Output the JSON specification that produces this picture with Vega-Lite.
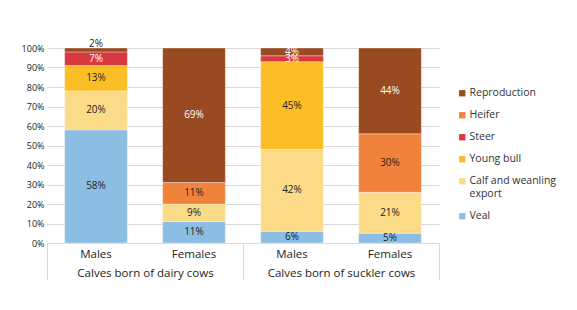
{
  "$schema": "https://vega.github.io/schema/vega-lite/v6.json",
  "background": "white",
  "padding": {"left": 21, "top": 39, "right": 5, "bottom": 5},
  "width": 392,
  "height": 195,
  "config": {"font": "Open Sans", "view": {"stroke": null}},
  "data": {"values": [
    {"group": "Calves born of dairy cows", "sex": "Males", "cat": "Veal", "v": 0.58},
    {"group": "Calves born of dairy cows", "sex": "Males", "cat": "Calf and weanling export", "v": 0.20},
    {"group": "Calves born of dairy cows", "sex": "Males", "cat": "Young bull", "v": 0.13},
    {"group": "Calves born of dairy cows", "sex": "Males", "cat": "Steer", "v": 0.07},
    {"group": "Calves born of dairy cows", "sex": "Males", "cat": "Reproduction", "v": 0.02},
    {"group": "Calves born of dairy cows", "sex": "Females", "cat": "Veal", "v": 0.11},
    {"group": "Calves born of dairy cows", "sex": "Females", "cat": "Calf and weanling export", "v": 0.09},
    {"group": "Calves born of dairy cows", "sex": "Females", "cat": "Heifer", "v": 0.11},
    {"group": "Calves born of dairy cows", "sex": "Females", "cat": "Reproduction", "v": 0.69},
    {"group": "Calves born of suckler cows", "sex": "Males", "cat": "Veal", "v": 0.06},
    {"group": "Calves born of suckler cows", "sex": "Males", "cat": "Calf and weanling export", "v": 0.42},
    {"group": "Calves born of suckler cows", "sex": "Males", "cat": "Young bull", "v": 0.45},
    {"group": "Calves born of suckler cows", "sex": "Males", "cat": "Steer", "v": 0.03},
    {"group": "Calves born of suckler cows", "sex": "Males", "cat": "Reproduction", "v": 0.04},
    {"group": "Calves born of suckler cows", "sex": "Females", "cat": "Veal", "v": 0.05},
    {"group": "Calves born of suckler cows", "sex": "Females", "cat": "Calf and weanling export", "v": 0.21},
    {"group": "Calves born of suckler cows", "sex": "Females", "cat": "Heifer", "v": 0.30},
    {"group": "Calves born of suckler cows", "sex": "Females", "cat": "Reproduction", "v": 0.44}
  ]},
  "transform": [
    {"calculate": "indexof(['Veal','Calf and weanling export','Young bull','Steer','Heifer','Reproduction'], datum.cat)", "as": "rank"},
    {"stack": "v", "groupby": ["group", "sex"], "sort": [{"field": "rank", "order": "ascending"}], "as": ["y0", "y1"]},
    {"calculate": "datum.v < 0.03 ? datum.y1 + 0.02 : (datum.y0 + datum.y1) / 2", "as": "mid"}
  ],
  "layer": [
    {
      "mark": {"type": "bar", "stroke": "white", "strokeWidth": 0.5, "strokeOpacity": 0.7},
      "encoding": {
        "x": {"field": "group", "type": "nominal", "scale": {"paddingInner": 0, "paddingOuter": 0},
              "axis": {"title": null, "labelAngle": 0, "tickBand": "extent", "tickSize": 37, "tickColor": "#d9d9d9", "domainColor": "#d9d9d9", "labelPadding": -13, "labelFontSize": 11.5, "labelColor": "#222"}},
        "xOffset": {"field": "sex", "type": "nominal", "sort": ["Males", "Females"], "scale": {"paddingInner": 0.36, "paddingOuter": 0.18}},
        "y": {"field": "y0", "type": "quantitative", "scale": {"domain": [0, 1], "nice": false},
              "axis": {"title": null, "format": ".0%", "values": [0, 0.1, 0.2, 0.3, 0.4, 0.5, 0.6, 0.7, 0.8, 0.9, 1], "domain": false, "ticks": false, "gridColor": "#d9d9d9", "labelFontSize": 9, "labelPadding": 3, "labelColor": "#222", "labelOverlap": false}},
        "y2": {"field": "y1"},
        "color": {"field": "cat", "type": "nominal",
                  "scale": {"domain": ["Veal", "Calf and weanling export", "Young bull", "Steer", "Heifer", "Reproduction"],
                            "range": ["#8cbde3", "#fcdb88", "#fcbe26", "#d7393e", "#f0823b", "#994a21"]},
                  "legend": {"title": null, "orient": "none", "legendX": 410, "legendY": 40, "symbolType": "square", "symbolSize": 40, "symbolStrokeWidth": 0,
                             "labelFontSize": 10.5, "labelColor": "#333", "rowPadding": 11, "labelOffset": 2,
                             "values": ["Reproduction", "Heifer", "Steer", "Young bull", "Calf and weanling export", "Veal"],
                             "labelExpr": "datum.label === 'Calf and weanling export' ? ['Calf and weanling', 'export'] : datum.label"}}
      }
    },
    {
      "mark": {"type": "text", "fontSize": 10},
      "encoding": {
        "x": {"field": "group", "type": "nominal"},
        "xOffset": {"field": "sex", "type": "nominal", "sort": ["Males", "Females"]},
        "y": {"field": "mid", "type": "quantitative", "scale": {"domain": [0, 1], "nice": false},
              "axis": {"title": null, "format": ".0%", "values": [0, 0.1, 0.2, 0.3, 0.4, 0.5, 0.6, 0.7, 0.8, 0.9, 1], "domain": false, "ticks": false, "gridColor": "#d9d9d9", "labelFontSize": 9, "labelPadding": 3, "labelColor": "#222", "labelOverlap": false}},
        "text": {"field": "v", "type": "quantitative", "format": ".0%"},
        "color": {"condition": {"test": "(datum.cat === 'Reproduction' || datum.cat === 'Steer') && datum.v > 0.025", "value": "#ffffff"}, "value": "#222222"}
      }
    },
    {
      "transform": [{"filter": "datum.cat === 'Veal'"}],
      "mark": {"type": "text", "fontSize": 11.5, "color": "#222222"},
      "encoding": {
        "x": {"field": "group", "type": "nominal"},
        "xOffset": {"field": "sex", "type": "nominal", "sort": ["Males", "Females"]},
        "y": {"datum": -0.063, "type": "quantitative", "scale": {"domain": [0, 1], "nice": false},
              "axis": {"title": null, "format": ".0%", "values": [0, 0.1, 0.2, 0.3, 0.4, 0.5, 0.6, 0.7, 0.8, 0.9, 1], "domain": false, "ticks": false, "gridColor": "#d9d9d9", "labelFontSize": 9, "labelPadding": 3, "labelColor": "#222", "labelOverlap": false}},
        "text": {"field": "sex", "type": "nominal"}
      }
    }
  ]
}
